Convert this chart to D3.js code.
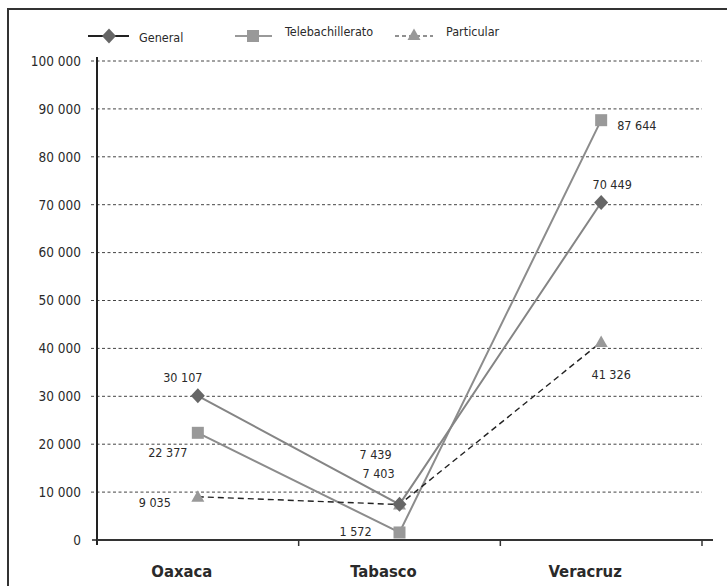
<!DOCTYPE html>
<html><head><meta charset="utf-8">
<script src="https://cdn.jsdelivr.net/npm/d3@7"></script>
<style>
body{margin:0;background:#fff;}
svg text{font-family:"DejaVu Sans Condensed","DejaVu Sans",sans-serif;font-stretch:condensed;fill:#2a2a2a;}
</style></head><body>
<svg id="c" width="727" height="586"></svg>
<script>
const categories = ["Oaxaca","Tabasco","Veracruz"];
const seriesNames = ["General","Telebachillerato","Particular"];
const generalValues = [30107, 7439, 70449];
const teleValues = [22377, 1572, 87644];
const particularValues = [9035, 7403, 41326];
const yTicks = [0,10000,20000,30000,40000,50000,60000,70000,80000,90000,100000];
const yTickLabels = ["0","10 000","20 000","30 000","40 000","50 000","60 000","70 000","80 000","90 000","100 000"];
const generalLabels = ["30 107","7 439","70 449"];
const teleLabels = ["22 377","1 572","87 644"];
const particularLabels = ["9 035","7 403","41 326"];

const svg = d3.select("#c");
// frame
svg.append("path").attr("d","M8,590 L8,9 L730,9").attr("fill","none").attr("stroke","#333").attr("stroke-width",2);

const x0=97,x1=702,yTop=61,yBot=540;
const x = d3.scaleBand().domain(categories).range([x0,x1]).padding(0);
const y = d3.scaleLinear().domain([0,100000]).range([yBot,yTop]);
const cx = c => x(c)+x.bandwidth()/2;

// gridlines
svg.append("g").selectAll("line").data(yTicks.filter(v=>v>0)).join("line")
  .attr("x1",91).attr("x2",x1).attr("y1",d=>y(d)).attr("y2",d=>y(d))
  .attr("stroke","#444").attr("stroke-width",1).attr("stroke-dasharray","3,2.5");

// y axis
const ya = svg.append("g").attr("transform",`translate(${x0},0)`)
  .call(d3.axisLeft(y).tickValues(yTicks).tickFormat((d,i)=>yTickLabels[i]).tickSize(0).tickPadding(16));
ya.select(".domain").remove();
ya.selectAll("text").style("font-size","13.5px").attr("fill","#2a2a2a");
svg.append("line").attr("x1",x0).attr("x2",x0).attr("y1",57).attr("y2",545).attr("stroke","#222").attr("stroke-width",2);
svg.append("line").attr("x1",92).attr("x2",x0).attr("y1",yBot).attr("y2",yBot).attr("stroke","#222").attr("stroke-width",1.5);

// x axis
svg.append("line").attr("x1",x0).attr("x2",713).attr("y1",yBot).attr("y2",yBot).attr("stroke","#333").attr("stroke-width",2);
const bounds = categories.map(c=>x(c)).concat([x1]);
svg.append("g").selectAll("line").data(bounds.slice(1)).join("line")
  .attr("x1",d=>d).attr("x2",d=>d).attr("y1",yBot).attr("y2",yBot+6).attr("stroke","#333").attr("stroke-width",1.5);
svg.append("g").selectAll("text").data(categories).join("text")
  .attr("x",d=>cx(d)-16).attr("y",577).attr("text-anchor","middle")
  .style("font-size","16.5px").style("font-weight","bold").attr("fill","#222").text(d=>d);

const lineGen = vals => d3.line().x((d,i)=>cx(categories[i])).y(d=>y(d))(vals);

// lines
svg.append("path").attr("d",lineGen(teleValues)).attr("fill","none").attr("stroke","#8c8c8c").attr("stroke-width",2);
svg.append("path").attr("d",lineGen(generalValues)).attr("fill","none").attr("stroke","#858585").attr("stroke-width",2);
svg.append("path").attr("d",lineGen(particularValues)).attr("fill","none").attr("stroke","#222").attr("stroke-width",1.4).attr("stroke-dasharray","6,4");

function diamond(g,px,py){ g.append("path").attr("d","M0,-7.5L7,0L0,7.5L-7,0Z").attr("transform",`translate(${px},${py})`).attr("fill","#666"); }
function square(g,px,py){ g.append("rect").attr("x",px-6).attr("y",py-6).attr("width",12).attr("height",12).attr("fill","#999"); }
function tri(g,px,py){ g.append("path").attr("d","M0,-6.5L6.5,5L-6.5,5Z").attr("transform",`translate(${px},${py})`).attr("fill","#999"); }

const mk = svg.append("g");
particularValues.forEach((v,i)=>tri(mk,cx(categories[i]),y(v)));
teleValues.forEach((v,i)=>square(mk,cx(categories[i]),y(v)));
generalValues.forEach((v,i)=>diamond(mk,cx(categories[i]),y(v)));

// data labels (offsets relative to points)
const lab = svg.append("g").style("font-size","12.5px");
const genOff=[[-15,-17],[-24,-49],[11,-17]];
const teleOff=[[-30,21],[-44,0],[16,6]];
const partOff=[[-43,7],[-21,-30],[10,33]];
function addLabels(vals,labels,offs,anchors){
  vals.forEach((v,i)=>{
    lab.append("text").attr("x",cx(categories[i])+offs[i][0]).attr("y",y(v)+offs[i][1])
      .attr("text-anchor",anchors[i]).attr("dominant-baseline","middle").text(labels[i]);
  });
}
addLabels(generalValues,generalLabels,genOff,["middle","middle","middle"]);
addLabels(teleValues,teleLabels,teleOff,["middle","middle","start"]);
addLabels(particularValues,particularLabels,partOff,["middle","middle","middle"]);

// legend
const lg = svg.append("g").style("font-size","12.5px");
lg.append("line").attr("x1",88).attr("x2",129).attr("y1",36).attr("y2",36).attr("stroke","#222").attr("stroke-width",2);
diamond(lg,109,36);
lg.append("text").attr("x",139).attr("y",38).attr("dominant-baseline","middle").text(seriesNames[0]);
lg.append("line").attr("x1",235).attr("x2",272).attr("y1",36).attr("y2",36).attr("stroke","#999").attr("stroke-width",2);
square(lg,253,36);
lg.append("text").attr("x",285).attr("y",32).attr("dominant-baseline","middle").text(seriesNames[1]);
lg.append("line").attr("x1",395).attr("x2",433).attr("y1",36).attr("y2",36).attr("stroke","#222").attr("stroke-width",1.2).attr("stroke-dasharray","4,3");
tri(lg,414,35);
lg.append("text").attr("x",446).attr("y",32).attr("dominant-baseline","middle").text(seriesNames[2]);
</script></body></html>
